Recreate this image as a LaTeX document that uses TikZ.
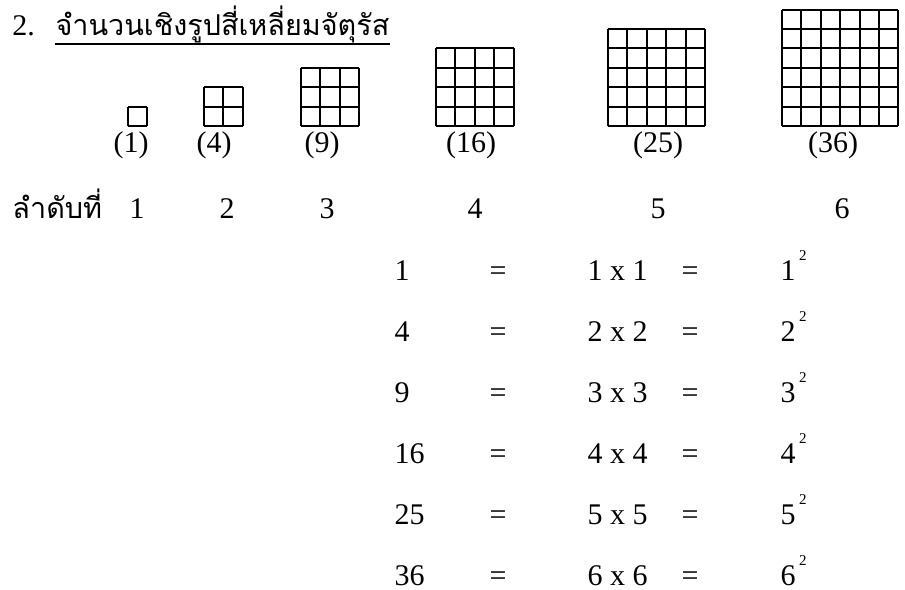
\documentclass[tikz,border=0pt]{standalone}
\usepackage{fontspec}
\setmainfont{Liberation Serif}
\newfontfamily\thaifont[Script=Thai]{Loma}
\usetikzlibrary{positioning}

\begin{document}
\begin{tikzpicture}[x=0.4pt,y=-0.4pt,
  txt/.style={inner sep=0pt,anchor=base,font=\fontsize{12}{14}\selectfont},
  lefttxt/.style={txt,anchor=base west},
  thai/.style={lefttxt,font=\fontsize{11.5}{14}\thaifont},
  gridline/.style={line width=0.8pt},
]
  \useasboundingbox (0,0) rectangle (905,589);

  % title
  \node[lefttxt] (num) at (12,35) {2.};
  \node[thai] (title) at (55,35) {จำนวนเชิงรูปสี่เหลี่ยมจัตุรัส};
  \draw[line width=0.6pt] ([yshift=-3.6pt]title.base west) -- ([yshift=-3.6pt]title.base east);

  % square grids with their counts and rank numbers
  \node[thai] (rank) at (12,218) {ลำดับที่};
  \foreach \n/\gx/\lx/\rx in {1/128/131/137, 2/204/214/227, 3/301/322/327,
                               4/436/471/475, 5/608/658/658, 6/782/833/842} {
    \foreach \i in {0,...,\n} {
      \draw[gridline] (\gx+\i*19.4,126) -- (\gx+\i*19.4,126-\n*19.4);
      \draw[gridline] (\gx,126-\i*19.4) -- (\gx+\n*19.4,126-\i*19.4);
    }
    \pgfmathtruncatemacro{\sq}{\n*\n}
    \node[txt] (l\n) at (\lx,152) {(\sq)};
    \node[txt] (r\n) at (\rx,218) {\n};
  }

  % table of squares
  \foreach \k in {1,...,6} {
    \pgfmathtruncatemacro{\sq}{\k*\k}
    \pgfmathsetmacro{\ry}{280+(\k-1)*61}
    \node[lefttxt] (s\k) at (394,\ry) {\sq};
    \node[txt] (eqa\k) at (498,\ry) {=};
    \node[lefttxt] (m\k) at (587,\ry) {\k{} x \k};
    \node[txt] (eqb\k) at (690,\ry) {=};
    \node[lefttxt] (p\k) at (780,\ry) {\k\hspace{1.4pt}\raisebox{8pt}{\fontsize{6}{7}\selectfont 2}};
  }
\end{tikzpicture}
\end{document}
